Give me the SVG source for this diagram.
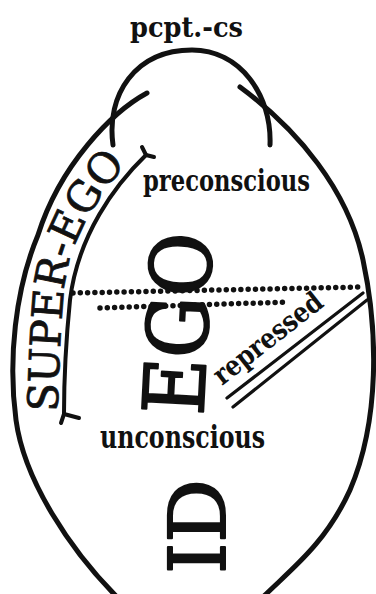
<svg xmlns="http://www.w3.org/2000/svg" width="376" height="594" viewBox="0 0 376 594">
<style>
.ln{fill:none;stroke:#111;stroke-width:5;stroke-linecap:round}
.mid{fill:none;stroke:#111;stroke-width:4;stroke-linecap:round}
.thin{fill:none;stroke:#111;stroke-width:3.2;stroke-linecap:round}
.dot{fill:none;stroke:#111;stroke-width:5.5;stroke-linecap:round;stroke-dasharray:0 7.3}
.lbl{font-family:"DejaVu Serif","Liberation Serif",serif;font-weight:bold;fill:#111}
.big{font-family:"DejaVu Serif","Liberation Serif",serif;font-weight:normal;fill:#111;stroke:#111;stroke-width:2;stroke-linejoin:round}
.se{font-family:"DejaVu Serif","Liberation Serif",serif;font-weight:normal;fill:#111;stroke:#111;stroke-width:0.8}
</style>
<rect width="376" height="594" fill="#fff"/>
<g id="connectors">
<path id="egg-left" class="ln" d="M147,93 C112,112 60,165 38,235 C15,290 8,360 16,420 C24,480 70,550 118,598"/>
<path id="egg-right" class="ln" d="M240,87 C298,130 348,190 363,260 C378,330 380,420 350,490 C325,545 290,570 262,598"/>
<path id="pcpt-cap" class="ln" d="M113,145 C106,95 135,50 192,50 C240,50 272,95 270,145"/>
<path id="superego-inner" class="mid" d="M146,155 C115,185 78,235 70,300 C66,340 64,380 64,414"/>
<path class="mid" d="M146,155 L142,147 M146,155 L154,157"/>
<path class="mid" d="M64,414 L61,423 M64,414 L79,418"/>
<path id="dots-upper" class="dot" d="M73,293 L362,287"/>
<path id="dots-lower" class="dot" d="M100,308 L289,302"/>
<path id="repressed-line1" class="thin" d="M363,293 L227,398"/>
<path id="repressed-line2" class="thin" d="M367,300 L233,407"/>
</g>
<g id="pcpt-cs"><text class="lbl" x="130" y="37" font-size="28" textLength="113" lengthAdjust="spacingAndGlyphs">pcpt.-cs</text></g>
<g id="preconscious"><text class="lbl" x="143" y="191" font-size="30" textLength="167" lengthAdjust="spacingAndGlyphs">preconscious</text></g>
<g id="unconscious"><text class="lbl" x="100" y="448" font-size="31" textLength="165" lengthAdjust="spacingAndGlyphs">unconscious</text></g>
<g id="repressed"><text class="lbl" transform="translate(222,386) rotate(-38)" font-size="28" textLength="131" lengthAdjust="spacingAndGlyphs">repressed</text></g>
<g id="ego"><text class="big" transform="translate(203,416) rotate(-87)" font-size="84" textLength="182" lengthAdjust="spacingAndGlyphs">EGO</text></g>
<g id="id"><text class="big" transform="translate(225,574) rotate(-90)" font-size="79" textLength="95" lengthAdjust="spacingAndGlyphs">ID</text></g>
<g id="super-ego">
<path id="sepath" fill="none" d="M57,425 C59,380 60,330 64,290 C68,250 90,200 140,150"/>
<text class="se" font-size="42"><textPath href="#sepath" startOffset="13" textLength="265" lengthAdjust="spacingAndGlyphs">SUPER-EGO</textPath></text>
</g>
</svg>
